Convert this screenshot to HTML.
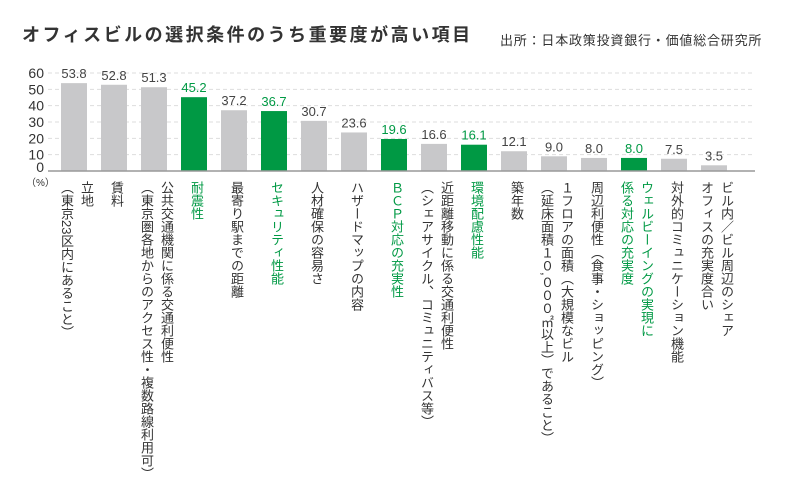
<!DOCTYPE html>
<html><head><meta charset="utf-8">
<style>
body{margin:0;background:#fff;width:808px;height:486px;overflow:hidden;font-family:"Liberation Sans","Noto Sans CJK JP",sans-serif;}
#t{position:absolute;left:22px;top:21px;font-size:18px;font-weight:bold;color:#333;letter-spacing:2.5px}
#s{position:absolute;left:500px;top:30px;font-size:13px;color:#333;letter-spacing:0.8px}
svg{position:absolute;left:0;top:0}
.lab{position:absolute;top:181px;writing-mode:vertical-rl;font-size:13px;line-height:20px;color:#333;white-space:nowrap;letter-spacing:0}
.g{color:#009944}
</style></head><body>
<div id="t">オフィスビルの選択条件のうち重要度が高い項目</div>
<div id="s">出所：日本政策投資銀行・価値総合研究所</div>
<svg id="c" width="808" height="486"></svg>
<div id="labs"></div>
<script>
const categories=["立地\n（東京23区内にあること）","賃料","公共交通機関に係る交通利便性\n（東京圏各地からのアクセス性・複数路線利用可）","耐震性","最寄り駅までの距離","セキュリティ性能","人材確保の容易さ","ハザードマップの内容","ＢＣＰ対応の充実性","近距離移動に係る交通利便性\n（シェアサイクル、コミュニティバス等）","環境配慮性能","築年数","１フロアの面積（大規模なビル\n（延床面積１０,０００㎡以上）であること）","周辺利便性（食事・ショッピング）","ウェルビーイングの実現に\n係る対応の充実度","対外的コミュニケーション機能","ビル内／ビル周辺のシェア\nオフィスの充実度合い"];
const values=[53.8,52.8,51.3,45.2,37.2,36.7,30.7,23.6,19.6,16.6,16.1,12.1,9.0,8.0,8.0,7.5,3.5];
const highlight=[0,0,0,1,0,1,0,0,1,0,1,0,0,0,1,0,0];
const ticks=[0,10,20,30,40,50,60];
const ns="http://www.w3.org/2000/svg",svg=document.getElementById('c');
const y0=171,ppu=98/60;
const y=v=>y0-v*ppu, xc=i=>74+40*i;
function mk(t,a){const e=document.createElementNS(ns,t);for(const k in a)e.setAttribute(k,a[k]);svg.appendChild(e);return e;}
ticks.forEach(t=>{
 if(t>0){const l=mk('line',{x1:48,x2:755,y1:y(t),y2:y(t),stroke:'#ddd','stroke-dasharray':'4,3'});
 
 }
 const tx=mk('text',{x:44,y:y(t)+5-(t===0?4:0),'text-anchor':'end','font-size':14,fill:'#333'});tx.textContent=t;
 
 
});
const pu=mk('text',{x:26,y:186,'font-size':10,fill:'#333'});pu.textContent='（%）';


const labs=document.getElementById('labs');
values.forEach((v,i)=>{
 const col=highlight[i]?'#009944':'#c8c8ca';
 const r=mk('rect',{x:xc(i)-13,y:y(v),width:26,height:y0-y(v),fill:col});
 
 
 const t=mk('text',{x:xc(i),y:y(v)-5,'text-anchor':'middle','font-size':13,fill:highlight[i]?'#009944':'#444'});
 t.textContent=v.toFixed(1);
 
 
 const d=document.createElement('div');
 d.className='lab'+(highlight[i]?' g':'');
 categories[i].split('\n').forEach((s,k)=>{if(k)d.appendChild(document.createElement('br'));d.appendChild(document.createTextNode(s));});
 labs.appendChild(d);
 
 
 const w=d.offsetWidth;d.style.left=(xc(i)+2-w/2)+'px';
});
const ax=mk('line',{x1:48,x2:755,y1:y0,y2:y0,stroke:'#999','stroke-width':1.5});


</script>
</body></html>
